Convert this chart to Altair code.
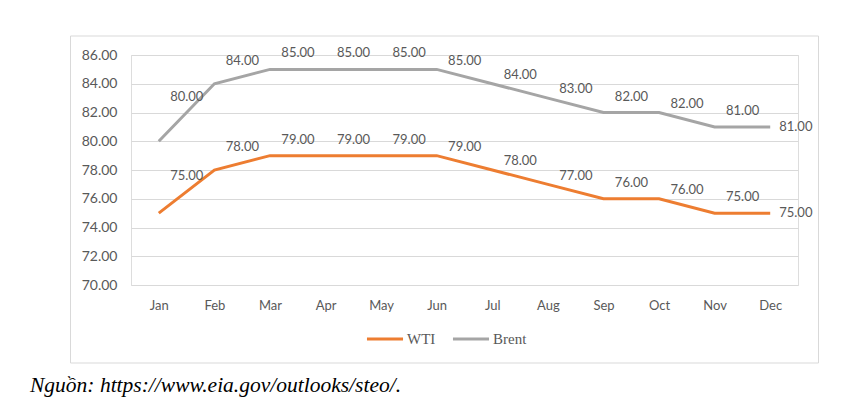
import altair as alt
import pandas as pd

# Monthly oil price outlook (USD/barrel)
months = ["Jan", "Feb", "Mar", "Apr", "May", "Jun",
          "Jul", "Aug", "Sep", "Oct", "Nov", "Dec"]
wti = [75, 78, 79, 79, 79, 79, 78, 77, 76, 76, 75, 75]
brent = [80, 84, 85, 85, 85, 85, 84, 83, 82, 82, 81, 81]
series_names = ["WTI", "Brent"]
series_colors = ["#ED7D31", "#A5A5A5"]
y_ticks = [70, 72, 74, 76, 78, 80, 82, 84, 86]
source_note = "Nguồn: https://www.eia.gov/outlooks/steo/."

rows = []
for name, values in zip(series_names, [wti, brent]):
    for i, (m, v) in enumerate(zip(months, values)):
        rows.append({"month": m, "idx": i, "series": name, "value": v})
df = pd.DataFrame(rows)

W, H = 667, 230
PAD = {"left": 131, "top": 55, "right": 60, "bottom": 125}
TEXT_GRAY = "#595959"
NUM_FONT = "Lato"

x_enc = alt.X("month:N", sort=months,
              scale=alt.Scale(type="point", padding=0.5),
              axis=alt.Axis(title=None, labelAngle=0, domain=False, ticks=False,
                            grid=False, labelFont=NUM_FONT, labelFontSize=13,
                            labelColor=TEXT_GRAY, labelPadding=14))
y_enc = alt.Y("value:Q", scale=alt.Scale(domain=[70, 86], nice=False, zero=False),
              axis=alt.Axis(title=None, values=y_ticks, tickCount=len(y_ticks),
                            format=".2f", domain=False,
                            ticks=False, gridColor="#D9D9D9", gridWidth=1,
                            labelOverlap=False,
                            labelFont=NUM_FONT, labelFontSize=14,
                            labelColor=TEXT_GRAY, labelPadding=14))
color_enc = alt.Color("series:N", sort=series_names,
                      scale=alt.Scale(domain=series_names, range=series_colors),
                      legend=alt.Legend(title=None, orient="none", direction="horizontal",
                                        legendX=234, legendY=264,
                                        symbolType="stroke", symbolStrokeWidth=3,
                                        symbolSize=1300, symbolOffset=0,
                                        labelFont="Liberation Serif", labelFontSize=15,
                                        labelColor=TEXT_GRAY, labelOffset=2,
                                        columnPadding=10))

base = alt.Chart(df)

# outer frame around the chart body
frame = alt.Chart(pd.DataFrame({"k": [0]})).mark_rect(
    fill=None, stroke="#D9D9D9", strokeWidth=1
).encode(x=alt.value(-60.5), x2=alt.value(687.5), y=alt.value(-19), y2=alt.value(308))

lines = base.mark_line(strokeWidth=3, strokeJoin="miter").encode(
    x=x_enc, y=y_enc, color=color_enc, detail="series:N")

# each label sits above the segment leading to the next month
label_base = base.transform_window(
    window=[alt.WindowFieldDef(op="lead", field="value", **{"as": "nxt"})],
    groupby=["series"], sort=[alt.SortField("idx")]
)

inner_labels = label_base.transform_filter("isValid(datum.nxt)").transform_calculate(
    ly="(datum.value + datum.nxt) / 2"
).mark_text(font=NUM_FONT, fontSize=13, color=TEXT_GRAY, dx=28, dy=-16).encode(
    x=alt.X("month:N", sort=months), y=alt.Y("ly:Q"),
    text=alt.Text("value:Q", format=".2f"))

end_labels = label_base.transform_filter("!isValid(datum.nxt)").mark_text(
    font=NUM_FONT, fontSize=13, color=TEXT_GRAY, align="left", dx=9
).encode(x=alt.X("month:N", sort=months), y=alt.Y("value:Q"),
         text=alt.Text("value:Q", format=".2f"))

note = alt.Chart(pd.DataFrame({"t": [source_note]})).mark_text(
    font="Liberation Serif", fontStyle="italic", fontSize=21.5, color="#000000",
    align="left", baseline="middle"
).encode(x=alt.value(-101), y=alt.value(331), text="t:N")

chart = alt.layer(frame, lines, inner_labels, end_labels, note).properties(
    width=W, height=H, padding=PAD,
    autosize=alt.AutoSizeParams(type="none")
).configure_view(stroke=None).configure(background="#FFFFFF")

chart.save("out.html", embed_options={"renderer": "svg", "actions": False})
